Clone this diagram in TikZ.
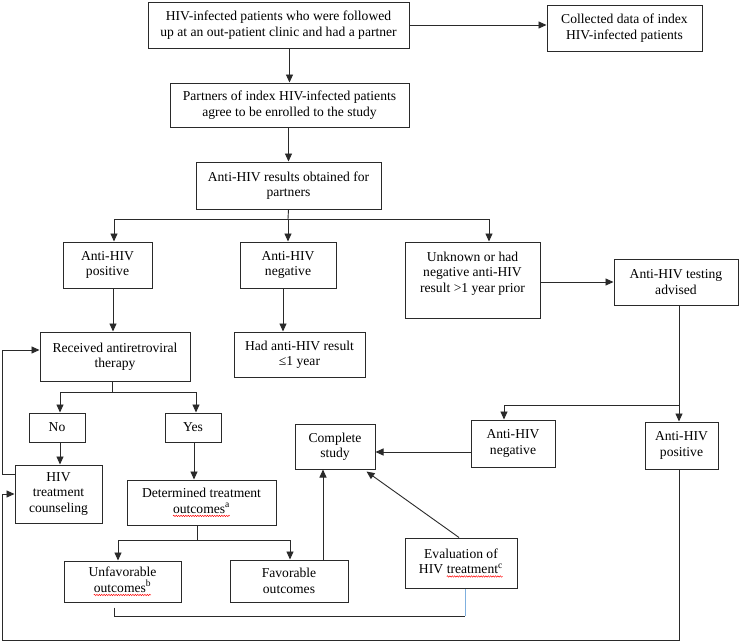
\documentclass[tikz,border=0pt]{standalone}
\usepackage{fontspec}
\setmainfont{Liberation Serif}
\usetikzlibrary{arrows.meta,calc,decorations.pathmorphing}
\definecolor{linec}{HTML}{2A2A2A}
\definecolor{lblue}{HTML}{7FB0DF}
\newcommand\redwave[1]{\tikz[baseline=(wv.base)]{\node[inner sep=0pt,outer sep=0pt,minimum width=0pt,minimum height=0pt,draw=none,fill=none,align=left] (wv) {#1};
  \draw[red, line width=0.45pt, decorate, decoration={snake,amplitude=0.7pt,segment length=2.4pt}]
   ([yshift=-2.8pt]wv.base west) -- ([yshift=-2.8pt]wv.base east);}}
\begin{document}
\begin{tikzpicture}[x=1pt,y=-1pt,
  box/.style={draw=linec, line width=1pt, align=center, inner sep=0pt, fill=white,
    font=\fontsize{13.6}{15.5}\selectfont},
  wh/.style 2 args={minimum width=#1, minimum height=#2},
  ln/.style={draw=linec, line width=0.9pt},
  arr/.style={ln, -{Triangle[length=8pt,width=7pt]}}]
\fill[white] (0,0) rectangle (740,643);
\useasboundingbox (0,0) rectangle (740,643);

\node[box, wh={261}{46}] (A) at (278.5,25) {HIV-infected patients who were followed\\up at an out-patient clinic and had a partner};
\node[box, wh={155}{46}] (B) at (624.5,28) {Collected data of index\\HIV-infected patients};
\node[box, wh={239}{44}] (C) at (289.5,105) {Partners of index HIV-infected patients\\agree to be enrolled to the study};
\node[box, wh={185}{47}] (D) at (288.5,185.5) {Anti-HIV results obtained for\\partners};
\node[box, wh={89}{46}] (E) at (107.5,265) {Anti-HIV\\positive};
\node[box, wh={96}{46}] (F) at (288,265) {Anti-HIV\\negative};
\node[box, wh={135}{76}] (G) at (472.5,280) {Unknown or had\\negative anti-HIV\\result >1 year prior\\\mbox{}};
\node[box, wh={124}{46}] (H) at (676,282) {Anti-HIV testing\\advised};
\node[box, wh={150}{49}] (I) at (115,356.5) {Received antiretroviral\\therapy};
\node[box, wh={131}{45}] (J) at (299.5,354.5) {Had anti-HIV result\\≤1 year};
\node[box, wh={56}{29}] (No) at (57,427.5) {No};
\node[box, wh={56}{29}] (Yes) at (193,427.5) {Yes};
\node[box, wh={87}{58}] (K) at (58.5,494) {HIV\\treatment\\counseling};
\node[box, wh={149}{45}] (L) at (201.5,502.5) {Determined treatment\\\redwave{outcomes\textsuperscript{a}}};
\node[box, wh={117}{41}] (M) at (122.5,581.5) {Unfavorable\\\redwave{outcomes\textsuperscript{b}}};
\node[box, wh={118}{42}] (N) at (289,581) {Favorable\\outcomes};
\node[box, wh={80}{45}] (O) at (335,446.5) {Complete\\study};
\node[box, wh={84}{47}] (P) at (513,443.5) {Anti-HIV\\negative};
\node[box, wh={73}{47}] (Q) at (681.5,445.5) {Anti-HIV\\positive};
\node[box, wh={112}{50}] (R) at (461,563) {Evaluation of\\HIV \redwave{treatment\textsuperscript{c}}};

% top chain
\draw[arr] (A.east) -- (A.east -| B.west);
\draw[arr] (C.north |- A.south) -- (C.north);
\draw[arr] (D.north |- C.south) -- (D.north);

% first branch
\coordinate (b1) at (288,219);
\draw[ln] (D.south) -- (b1);
\draw[arr] (b1) -| ([xshift=6.5]E.north);
\draw[arr] (b1) -- (F.north);
\draw[arr] (b1) -| ([xshift=16.5]G.north);

\draw[arr] ([xshift=5.5]E.south) -- ([xshift=5.5]E.south |- I.north);
\draw[arr] ([xshift=-5]F.south) -- ([xshift=-5]F.south |- J.north);
\draw[arr] (G.east |- H.west) -- (H.west);

% therapy branch
\coordinate (b2) at (112,392);
\draw[ln] (I.south -| b2) -- (b2);
\draw[arr] (b2) -| ([xshift=3]No.north);
\draw[arr] (b2) -| ([xshift=3]Yes.north);
\draw[arr] ([xshift=3]No.south) -- ([xshift=3]No.south |- K.north);
\draw[arr] ([xshift=1]Yes.south) -- ([xshift=1]Yes.south |- L.north);

% outcomes branch
\coordinate (b3) at (197,540);
\draw[ln] (L.south -| b3) -- (b3);
\draw[arr] (b3) -| ([xshift=-4.5]M.north);
\draw[arr] (b3) -| ([xshift=1]N.north);
\draw[arr] ([xshift=34]N.north) -- ([xshift=34]N.north |- O.south);
\draw[arr] ([yshift=-8.5]P.west) -- ([yshift=-8.5]P.west -| O.east);
\draw[arr] ([xshift=-2]R.north) -- ([xshift=-9,yshift=-2]O.south east);

% testing branch
\coordinate (b4) at (679,405);
\draw[ln] (H.south -| b4) -- (b4);
\draw[arr] (b4) -| ([xshift=-9]P.north);
\draw[arr] (b4) -- (b4 |- Q.north);

% loops
\coordinate (c1) at (2,640);
\draw[arr] (Q.south -| b4) |- (c1) |- (K.west);
\coordinate (c2) at (2,350);
\draw[arr] ([yshift=20]K.west) -| (c2) -- (c2 -| I.west);

% unfavorable to evaluation
\coordinate (mr) at (465,616);
\draw[ln] ([xshift=-8.5,yshift=-5]M.south) |- (mr);
\draw[ln, draw=lblue] (mr) -- (mr |- R.south);
\end{tikzpicture}
\end{document}
